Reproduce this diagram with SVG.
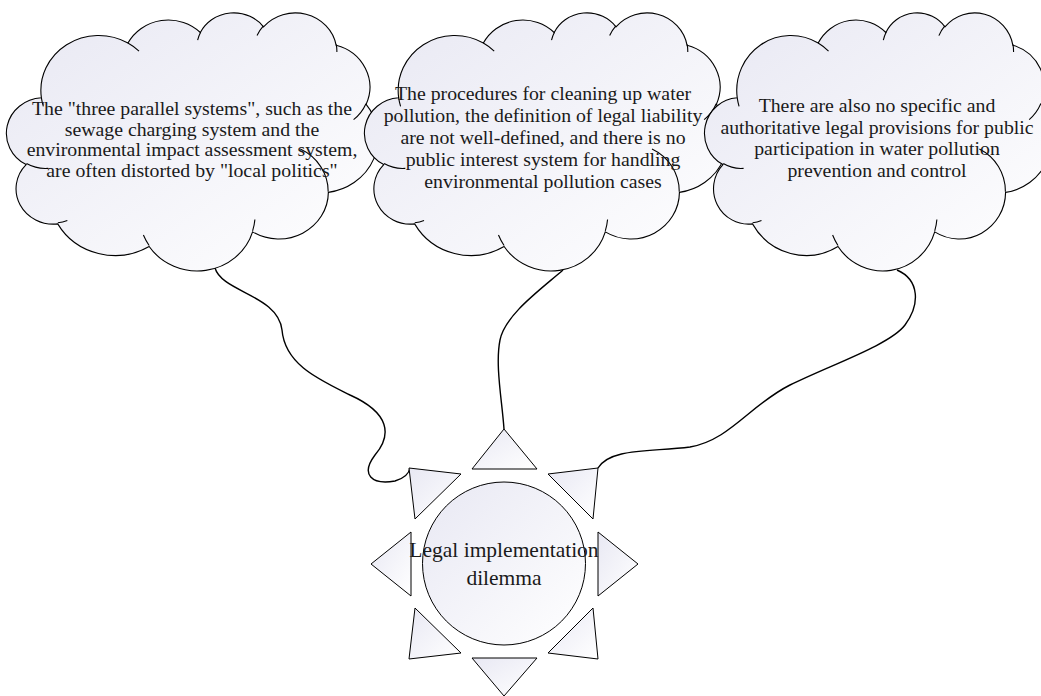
<svg xmlns="http://www.w3.org/2000/svg" width="1041" height="696" viewBox="0 0 1041 696">
<defs>
<linearGradient id="g" x1="0" y1="0" x2="1" y2="1"><stop offset="0" stop-color="#E8E8F3"/><stop offset="1" stop-color="#FFFFFF"/></linearGradient>
<path id="cloud" class="c" d="M3900 14370 A6753 9190 0 0 1 14005 5202 A5333 7267 0 0 1 22456 3431 A4365 5945 0 0 1 29833 2480 A4857 6595 0 0 1 38318 5575 A5333 7273 0 0 1 41818 15459 A6775 9220 0 0 1 37404 30202 A5785 7867 0 0 1 28556 36812 A6752 9215 0 0 1 16482 39266 A7720 10543 0 0 1 5807 35474 A4360 5918 0 0 1 2115 25553 A4345 5945 0 0 1 3900 14370 Z"/>
<path id="cloudIn" class="ci" d="M4693 26177 A4345 5945 0 0 1 2160 25380 M6928 34899 A4360 5918 0 0 1 5820 35281 M16478 39090 A6752 9215 0 0 1 15809 37347 M28827 34751 A6752 9215 0 0 1 28560 36660 M34129 22954 A5785 7867 0 0 1 37380 30090 M41798 15354 A5333 7273 0 0 1 40350 18030 M38324 5426 A4857 6595 0 0 1 38400 6690 M29078 3952 A4857 6595 0 0 1 29820 2339 M22141 4720 A4365 5945 0 0 1 22500 3330 M14000 5192 A6753 9190 0 0 1 15299 6540 M4127 15789 A6753 9190 0 0 1 3900 14371"/>
</defs>
<style>
.c{fill:url(#g);stroke:#000;stroke-width:1.1;vector-effect:non-scaling-stroke}
.ci{fill:none;stroke:#000;stroke-width:1.1;vector-effect:non-scaling-stroke}
.t{font-family:"Liberation Serif","Times New Roman",serif;font-size:19.8px;fill:#1a1a1a;text-anchor:middle}
.ts{font-family:"Liberation Serif","Times New Roman",serif;font-size:21.5px;fill:#1a1a1a;text-anchor:middle}
.s{fill:url(#g);stroke:#000;stroke-width:1}
.e{fill:none;stroke:#000;stroke-width:1.4}
</style>
<g id="connectors">
<path class="e" d="M215 268 C222 292 278 295 282 330 C285 365 320 380 350 395 C390 413 392 435 375 455 C360 475 372 485 395 481 C405 478 409 474 410 468"/>
<path class="e" d="M563 270 C540 290 505 315 500 340 C495 365 502 400 504 429"/>
<path class="e" d="M897 270 C920 280 920 305 905 325 C890 345 830 365 790 385 C750 405 730 440 690 447 C650 452 610 448 598 468"/>
</g>
<g id="cloud1">
<g transform="translate(8 12) scale(0.0085648 0.0059722)"><use href="#cloud"/><use href="#cloudIn"/></g>
<text class="t" x="192"><tspan x="192" y="115">The "three parallel systems", such as the</tspan><tspan x="192" y="135.5">sewage charging system and the</tspan><tspan x="192" y="156">environmental impact assessment system,</tspan><tspan x="192" y="176.5">are often distorted by "local politics"</tspan></text>
</g>
<g id="cloud2">
<g transform="translate(366 12) scale(0.0083796 0.0059722)"><use href="#cloud"/><use href="#cloudIn"/></g>
<text class="t"><tspan x="543" y="100">The procedures for cleaning up water</tspan><tspan x="543" y="122">pollution, the definition of legal liability</tspan><tspan x="543" y="144">are not well-defined, and there is no</tspan><tspan x="543" y="166">public interest system for handling</tspan><tspan x="543" y="188">environmental pollution cases</tspan></text>
</g>
<g id="cloud3">
<g transform="translate(706 12) scale(0.0080093 0.0059722)"><use href="#cloud"/><use href="#cloudIn"/></g>
<text class="t"><tspan x="877" y="112">There are also no specific and</tspan><tspan x="877" y="133.5">authoritative legal provisions for public</tspan><tspan x="877" y="155">participation in water pollution</tspan><tspan x="877" y="176.5">prevention and control</tspan></text>
</g>
<g id="sun">
<polygon class="s" points="504,429 472,469 537,469"/>
<polygon class="s" points="472,658 537,658 504,696"/>
<polygon class="s" points="371,564 411,532 411,596"/>
<polygon class="s" points="638,564 598,532 598,596"/>
<polygon class="s" points="409,468 461,474 415,519"/>
<polygon class="s" points="598,468 548,474 593,519"/>
<polygon class="s" points="415,608 461,653 409,659"/>
<polygon class="s" points="593,608 548,653 598,659"/>
<circle class="s" cx="504" cy="563.5" r="81.5"/>
<text class="ts"><tspan x="504" y="557">Legal implementation</tspan><tspan x="504" y="585">dilemma</tspan></text>
</g>
</svg>
